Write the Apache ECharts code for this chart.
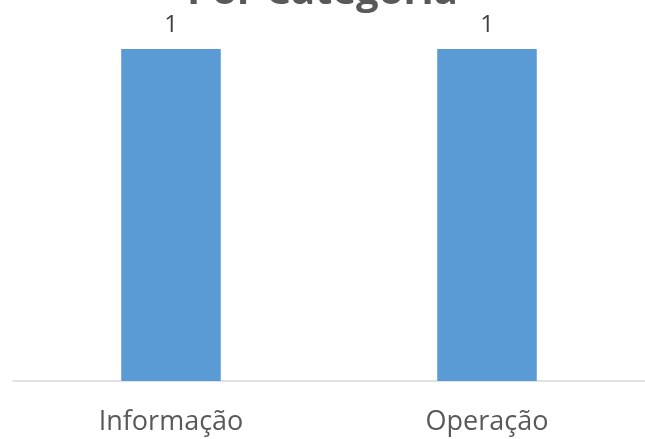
<!DOCTYPE html>
<html>
<head>
<meta charset="utf-8">
<script src="https://cdn.jsdelivr.net/npm/echarts@6/dist/echarts.min.js"></script>
<style>
html,body{margin:0;padding:0;background:#fff;}
#chart{width:645px;height:439px;}
</style>
</head>
<body>
<div id="chart"></div>
<script>
var categories = ['Informação', 'Operação'];
var values = [1, 1];

var chart = echarts.init(document.getElementById('chart'));
chart.setOption({
    animation: false,
    title: {
        text: 'Por Categoria',
        left: 'center',
        top: -32,
        textStyle: {
            fontFamily: 'Open Sans',
            fontSize: 40,
            fontWeight: 'bold',
            color: '#595959'
        }
    },
    grid: {left: 13, right: 0, top: 49, bottom: 58},
    xAxis: {
        type: 'category',
        data: categories,
        axisLine: {lineStyle: {color: '#d9d9d9', width: 1.5}},
        axisTick: {show: false},
        axisLabel: {
            margin: 28,
            fontFamily: 'Open Sans',
            fontSize: 27,
            color: '#595959'
        }
    },
    yAxis: {
        type: 'value',
        min: 0,
        max: 1,
        show: false,
        splitLine: {show: false}
    },
    series: [{
        type: 'bar',
        data: values,
        barWidth: '31.5%',
        itemStyle: {color: '#5b9bd5'},
        label: {
            show: true,
            position: 'top',
            distance: 12,
            fontFamily: 'Open Sans',
            fontSize: 24,
            color: '#404040'
        }
    }]
});
</script>
</body>
</html>
